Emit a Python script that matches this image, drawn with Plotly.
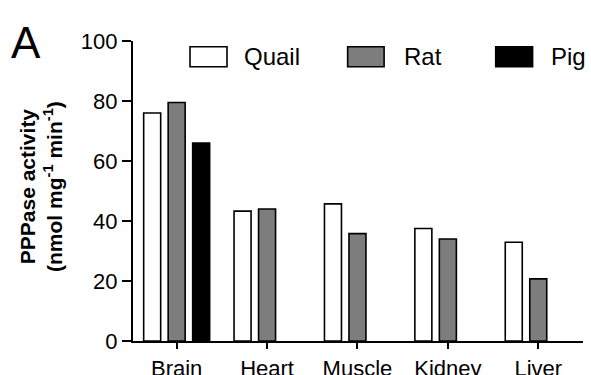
import plotly.graph_objects as go

categories = ["Brain", "Heart", "Muscle", "Kidney", "Liver"]
series_names = ["Quail", "Rat", "Pig"]
quail = [76, 43.3, 45.7, 37.5, 32.9]
rat = [79.5, 44, 35.8, 34, 20.7]
pig = [66, None, None, None, None]
colors = ["#ffffff", "#7d7d7d", "#000000"]
y_ticks = [0, 20, 40, 60, 80, 100]
y_title = "<b>PPPase activity</b><br><b>(nmol mg<sup>-1</sup> min<sup>-1</sup>)</b>"

FONT = "Liberation Sans, Arial, Helvetica, sans-serif"

fig = go.Figure()
for name, vals, col in zip(series_names, [quail, rat, pig], colors):
    fig.add_trace(go.Bar(
        x=categories, y=vals, name=name,
        marker=dict(color=col, line=dict(color="#000000", width=1.6)),
        showlegend=False,
    ))

# Manual legend (large boxes like the original)
legend_box_x = [(0.1267, 0.2089), (0.477, 0.558), (0.806, 0.888)]
legend_text_x = [0.2416, 0.597, 0.925]
shapes = []
annotations = []
for name, col, (x0, x1), tx in zip(series_names, colors, legend_box_x, legend_text_x):
    shapes.append(dict(type="rect", xref="paper", yref="paper",
                       x0=x0, x1=x1, y0=0.914, y1=0.981,
                       fillcolor=col, line=dict(color="#000000", width=1.6)))
    annotations.append(dict(text=name, xref="paper", yref="paper", x=tx, y=0.948,
                            xanchor="left", yanchor="middle", showarrow=False,
                            font=dict(family=FONT, size=24, color="#000000")))

annotations.append(dict(text="A", xref="paper", yref="paper", x=-0.275, y=1.085,
                        xanchor="left", yanchor="top", showarrow=False,
                        font=dict(family=FONT, size=44, color="#000000")))

annotations.append(dict(text=y_title, xref="paper", yref="paper", x=-0.2056, y=0.515,
                        xanchor="center", yanchor="middle", showarrow=False, textangle=-90,
                        font=dict(family=FONT, size=21, color="#000000")))

fig.update_layout(
    width=591, height=375,
    margin=dict(l=133, r=8, t=41, b=34, autoexpand=False),
    paper_bgcolor="white", plot_bgcolor="white",
    barmode="group", bargap=0.187, bargroupgap=0.306,
    font=dict(family=FONT, color="#000000"),
    shapes=shapes, annotations=annotations,
    xaxis=dict(range=[-0.483, 4.495], showline=True, linecolor="#000000", linewidth=2.2,
               ticks="outside", ticklen=6, tickwidth=2.2, tickcolor="#000000",
               tickfont=dict(family=FONT, size=22, color="#000000"), automargin=False,
               showgrid=False, zeroline=False),
    yaxis=dict(range=[0, 100], tickvals=y_ticks, showline=True, linecolor="#000000",
               linewidth=2.2, ticks="outside", ticklen=9, tickwidth=2.2, tickcolor="#000000",
               tickfont=dict(family=FONT, size=22, color="#000000"), automargin=False,
               showgrid=False, zeroline=False),
)

fig.write_html("out.html")
